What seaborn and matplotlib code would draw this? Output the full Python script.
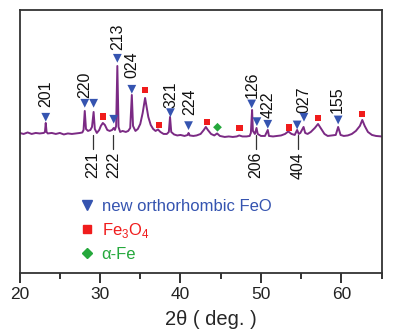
import matplotlib
matplotlib.use("Agg")
import matplotlib.pyplot as plt
from matplotlib.lines import Line2D
from matplotlib.ticker import MultipleLocator
import seaborn as sns
import pandas as pd

# XRD trace: 2-theta (deg) and intensity (a.u.)
two_theta = [20.0, 20.5, 21.0, 21.5, 22.0, 22.5, 23.0, 23.15, 23.25, 23.35, 23.5,
             24.0, 24.5, 25.0, 25.5, 26.0, 26.5, 27.0, 27.5, 27.8, 27.95, 28.1, 28.25,
             28.5, 28.8, 29.0, 29.2, 29.35, 29.6, 29.9, 30.1, 30.35, 30.6, 30.9, 31.2,
             31.5, 31.7, 31.85, 32.0, 32.15, 32.3, 32.5, 32.8, 33.2, 33.5, 33.75, 33.95,
             34.1, 34.4, 34.7, 35.0, 35.3, 35.5, 35.6, 35.75, 36.0, 36.3, 36.6, 36.9,
             37.2, 37.5, 37.9, 38.3, 38.55, 38.7, 38.85, 39.2, 39.6, 40.0, 40.5, 40.9,
             41.0, 41.15, 41.6, 42.0, 42.5, 42.9, 43.15, 43.4, 43.8, 44.2, 44.55, 44.9,
             45.5, 46.0, 46.5, 47.0, 47.3, 47.7, 48.2, 48.6, 48.75, 48.9, 49.0, 49.25,
             49.45, 49.6, 50.0, 50.5, 50.85, 51.0, 51.5, 52.0, 52.5, 53.0, 53.4, 53.8,
             54.2, 54.5, 54.7, 54.9, 55.3, 55.5, 55.8, 56.2, 56.7, 57.1, 57.5, 57.9,
             58.3, 58.8, 59.3, 59.6, 59.9, 60.3, 60.8, 61.3, 61.8, 62.3, 62.6, 62.9,
             63.3, 63.8, 64.3, 65.0]
intensity = [140, 139, 140.5, 139, 140, 139.5, 140, 141, 150, 141, 139.5,
             140, 139, 140, 138.5, 139.5, 139, 139.5, 140, 140.5, 143, 162, 144,
             142, 143, 146, 161, 144, 140, 143, 147, 150, 148, 143, 142,
             143, 145, 143, 147, 207, 146, 141, 142, 141, 142, 145, 178,
             147, 142, 144, 149, 160, 170, 175, 168, 156, 148, 144, 142,
             143.5, 141, 139, 139, 141, 156, 141, 138.5, 137.5, 138, 137, 138,
             140, 137.5, 137, 137.5, 139, 143, 146, 143, 139, 137.5, 139.5, 137,
             136, 136.5, 136, 136.5, 137.5, 136.5, 136.5, 137, 140, 163, 142, 139,
             145, 139, 137, 137, 143, 137, 136.5, 137, 137.5, 139, 141.5, 139,
             138, 143, 139, 140, 146, 140, 139, 141, 145, 149, 144, 139,
             137, 137.5, 138, 146, 138, 137, 137.5, 139, 142, 147, 153, 147,
             141, 138, 137, 136.5]

# Phase markers
feo_pos = [23.25, 28.1, 29.2, 31.7, 32.15, 33.95, 38.75, 41.0, 48.85, 49.5, 50.85, 54.5, 55.35, 59.6]
feo_hgt = [155.7, 169.7, 169.7, 153.7, 214.7, 183.7, 160.3, 147.3, 169.0, 151.3, 148.7, 148.0, 155.7, 153.0]
fe3o4_pos = [30.4, 35.6, 37.35, 43.3, 47.35, 53.5, 57.1, 62.6]
fe3o4_hgt = [156.3, 183.0, 147.7, 150.7, 144.7, 145.3, 154.7, 159.0]
fe_pos = [44.6]
fe_hgt = [145.7]

# Miller indices written above the peaks
hkl_up = ["201", "220", "213", "024", "321", "224", "126", "422", "027", "155"]
hkl_up_x = [23.25, 28.05, 32.15, 34.0, 38.8, 41.1, 48.9, 50.9, 55.4, 59.5]
hkl_up_y = [166, 175, 223, 195, 165, 158, 175, 155, 160, 160]
# Miller indices written below the baseline
hkl_dn = ["221", "222", "206", "404"]
hkl_dn_x = [29.1, 31.65, 49.4, 54.65]

sns.set_style("ticks")
plt.rcParams["font.family"] = ["Liberation Sans", "DejaVu Sans"]

purple = "#7b2a84"
blue = "#3554b0"
red = "#f01c1c"
green = "#25a83c"

fig = plt.figure(figsize=(4.0, 3.34), dpi=100)
ax = fig.add_axes([0.049, 0.183, 0.905, 0.787])

trace = pd.DataFrame({"tt": two_theta, "I": intensity})
sns.lineplot(data=trace, x="tt", y="I", color=purple, linewidth=1.4, ax=ax,
             estimator=None, sort=False)

sns.scatterplot(x=feo_pos, y=feo_hgt, marker="v", s=40, color=blue,
                edgecolor="none", ax=ax, zorder=5)
sns.scatterplot(x=fe3o4_pos, y=fe3o4_hgt, marker="s", s=21, color=red,
                edgecolor="none", ax=ax, zorder=5)
sns.scatterplot(x=fe_pos, y=fe_hgt, marker="D", s=20, color=green,
                edgecolor="none", ax=ax, zorder=5)

for lab, x, y in zip(hkl_up, hkl_up_x, hkl_up_y):
    ax.text(x, y, lab, rotation=90, ha="center", va="bottom",
            fontsize=11.5, color="#111111")

for lab, x in zip(hkl_dn, hkl_dn_x):
    ax.plot([x, x], [138, 124], color="#333333", linewidth=0.9)
    ax.text(x, 121, lab, rotation=90, ha="center", va="top",
            fontsize=11.5, color="#111111")

ax.set_xlim(20, 65)
ax.set_ylim(0, 263)
ax.set_yticks([])
ax.set_ylabel("")
ax.set_xlabel("2θ ( deg. )", fontsize=14.5)
ax.xaxis.set_label_coords(0.529, -0.14)
ax.xaxis.label.set_verticalalignment("top")
ax.xaxis.set_major_locator(MultipleLocator(10))
ax.xaxis.set_minor_locator(MultipleLocator(5))
ax.tick_params(axis="x", which="major", direction="out", length=7, width=1.3,
               labelsize=12.5, pad=3, colors="#222222")
ax.tick_params(axis="x", which="minor", direction="out", length=4, width=1.3,
               colors="#222222")
for side in ["left", "right", "top", "bottom"]:
    ax.spines[side].set_visible(True)
    ax.spines[side].set_color("#333333")
    ax.spines[side].set_linewidth(1.3)

handles = [
    Line2D([], [], linestyle="none", marker="v", markersize=7.5, color=blue),
    Line2D([], [], linestyle="none", marker="s", markersize=5.5, color=red),
    Line2D([], [], linestyle="none", marker="D", markersize=5, color=green),
]
labels = ["new orthorhombic FeO", r"Fe$_\mathregular{3}$O$_\mathregular{4}$", "α-Fe"]
leg = ax.legend(handles, labels, loc="upper left", bbox_to_anchor=(0.163, 0.28),
                frameon=False, fontsize=12, handlelength=1.0, handletextpad=0.38,
                borderpad=0, borderaxespad=0, labelspacing=0.42)
for txt, c in zip(leg.get_texts(), [blue, red, green]):
    txt.set_color(c)

fig.savefig("out.png", dpi=100)
